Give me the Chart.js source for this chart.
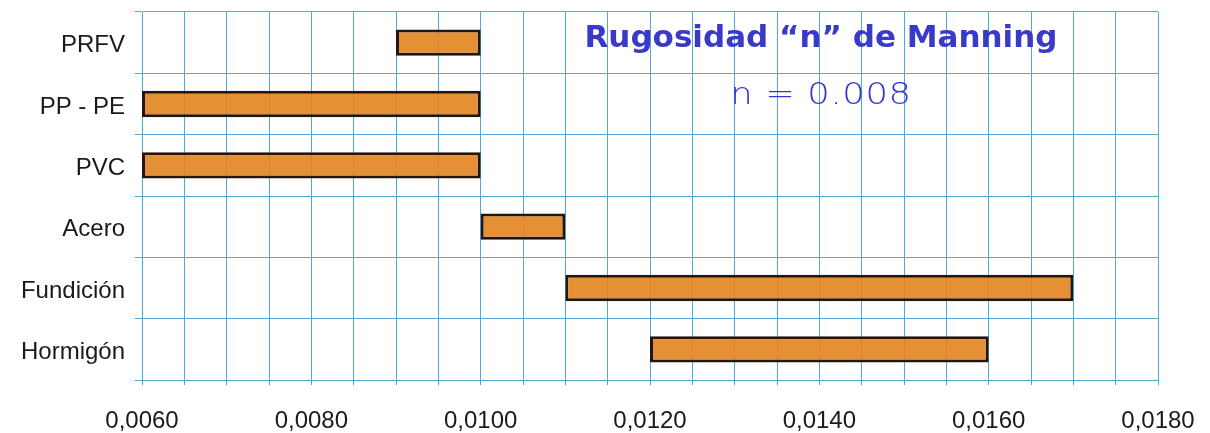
<!DOCTYPE html>
<html>
<head>
<meta charset="utf-8">
<script src="https://cdn.jsdelivr.net/npm/chart.js@4.4.0/dist/chart.umd.min.js"></script>
<style>
html,body{margin:0;padding:0;background:#fff;}
#wrap{position:relative;width:1210px;height:433px;}
#title{position:absolute;left:0;width:1642px;top:18px;text-align:center;font-family:"DejaVu Sans",sans-serif;font-weight:bold;font-size:31px;color:#3a3ac8;white-space:nowrap;}
#sub{position:absolute;left:0;width:1642px;top:76px;text-align:center;font-family:"DejaVu Sans",sans-serif;font-weight:200;font-size:30px;color:#3434d0;white-space:nowrap;letter-spacing:0.5px;transform:scaleX(1.18);transform-origin:821px 50%;}
</style>
</head>
<body>
<div id="wrap">
<canvas id="c" width="1210" height="433"></canvas>
<div id="title">Rugosidad “n” de Manning</div>
<div id="sub">n = 0.008</div>
</div>
<script>
const categories = ['PRFV', 'PP - PE', 'PVC', 'Acero', 'Fundición', 'Hormigón'];
const rangeStart = [0.0090, 0.0060, 0.0060, 0.0100, 0.0110, 0.0120];
const rangeEnd   = [0.0100, 0.0100, 0.0100, 0.0110, 0.0170, 0.0160];
const xTickLabels = ['0,0060', '0,0080', '0,0100', '0,0120', '0,0140', '0,0160', '0,0180'];
const xMin = 0.0060, xMax = 0.0180, gridStep = 0.0005, labelStep = 0.0020;

const gridColor = '#4faad6';

new Chart(document.getElementById('c'), {
  type: 'bar',
  data: {
    labels: categories,
    datasets: [{
      data: rangeStart.map((s, i) => [s, rangeEnd[i]]),
      backgroundColor: 'rgba(227,136,38,0.93)',
      borderColor: '#24150e',
      borderWidth: 3,
      borderSkipped: false,
      barPercentage: 0.43,
      categoryPercentage: 1.0
    }]
  },
  options: {
    indexAxis: 'y',
    responsive: false,
    animation: false,
    events: [],
    layout: { padding: { top: 12, right: 52, left: 0, bottom: 0 } },
    plugins: { legend: { display: false }, tooltip: { enabled: false }, title: { display: false } },
    scales: {
      x: {
        type: 'linear',
        min: xMin, max: xMax,
        afterFit: s => { s.height = 53; s.paddingLeft = 0; s.paddingRight = 0; },
        afterBuildTicks: s => {
          const t = [];
          const n = Math.round((xMax - xMin) / gridStep);
          for (let i = 0; i <= n; i++) t.push({ value: xMin + i * gridStep });
          s.ticks = t;
        },
        ticks: {
          autoSkip: false,
          maxRotation: 0,
          padding: 22,
          color: '#1a1a1a',
          font: { family: 'Liberation Sans, Arial, sans-serif', size: 24 },
          callback: (v) => {
            const k = (v - xMin) / labelStep;
            const r = Math.round(k);
            return Math.abs(k - r) < 1e-6 ? xTickLabels[r] : '';
          }
        },
        grid: { color: gridColor, lineWidth: 1, tickLength: 5, drawTicks: true },
        border: { color: gridColor, width: 1 }
      },
      y: {
        afterFit: s => { s.width = 142; s.paddingTop = 0; s.paddingBottom = 0; },
        ticks: {
          padding: 10,
          labelOffset: 3,
          color: '#1a1a1a',
          font: { family: 'Liberation Sans, Arial, sans-serif', size: 24 }
        },
        grid: { color: gridColor, lineWidth: 1, tickLength: 7, offset: true },
        border: { color: gridColor, width: 1 }
      }
    }
  }
});
</script>
</body>
</html>
